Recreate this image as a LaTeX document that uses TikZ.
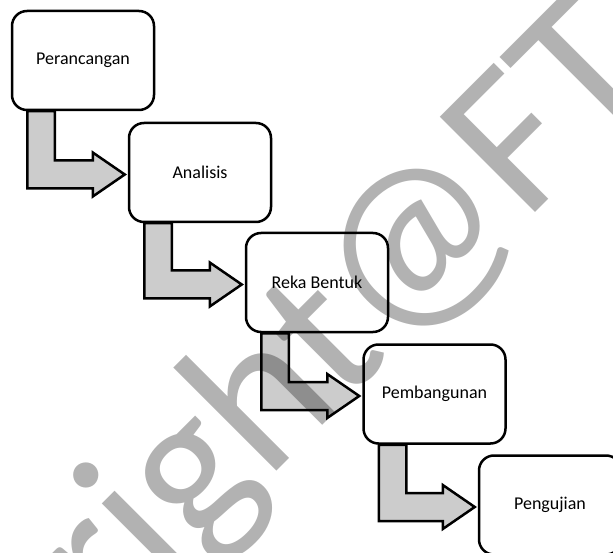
\documentclass[tikz,border=0pt]{standalone}
\usepackage{fontspec}
\setmainfont{Carlito}
\usetikzlibrary{calc}
\tikzset{
  stagebox/.style={draw=black, line width=2.5pt, rounded corners=15pt, fill=white,
    minimum width=142pt, minimum height=99pt, inner sep=0pt,
    font=\fontsize{18}{22}\selectfont},
  bentarrowstyle/.style={draw=black, line width=2.5pt, fill=black!20, line join=miter},
  watermark/.style={text=black, text opacity=0.3, rotate=45, anchor=base, inner sep=0pt,
    font=\fontsize{210}{210}\selectfont}
}
\newcommand{\bentarrow}[2]{%
  \path[bentarrowstyle] let \p1=(#1.south west), \p2=(#2.west) in
    (\x1+16.5pt,\y1) -- (\x1+16.5pt,\y2-16pt) -- (\x2-35pt,\y2-16pt) -- (\x2-35pt,\y2-24pt)
    -- (\x2-3pt,\y2-2pt) -- (\x2-35pt,\y2+20pt) -- (\x2-35pt,\y2+12pt)
    -- (\x1+44pt,\y2+12pt) -- (\x1+44pt,\y1) -- cycle;}
\begin{document}
\begin{tikzpicture}[x=1pt,y=-1pt]
\useasboundingbox (0,0) rectangle (613,553);
\clip (0,0) rectangle (613,553);
\coordinate (c1) at (83,60.5);
\coordinate (c2) at (200,172.5);
\coordinate (c3) at (317,282.5);
\coordinate (c4) at (434.5,394);
\coordinate (c5) at (550,505);
% invisible placeholders to compute arrows first
\node[stagebox, draw=none, fill=none] (b1) at (c1) {};
\node[stagebox, draw=none, fill=none] (b2) at (c2) {};
\node[stagebox, draw=none, fill=none] (b3) at (c3) {};
\node[stagebox, draw=none, fill=none] (b4) at (c4) {};
\node[stagebox, draw=none, fill=none] (b5) at (c5) {};
\bentarrow{b1}{b2}
\bentarrow{b2}{b3}
\bentarrow{b3}{b4}
\bentarrow{b4}{b5}
\node[stagebox] (s1) at (c1) {Perancangan};
\node[stagebox] (s2) at (c2) {Analisis};
\node[stagebox] (s3) at (c3) {Reka Bentuk};
\node[stagebox] (s4) at (c4) {Pembangunan};
\node[stagebox] (s5) at (c5) {Pengujian};
\node[watermark] (wm) at (237,511) {Copyright@FT};
\end{tikzpicture}
\end{document}
